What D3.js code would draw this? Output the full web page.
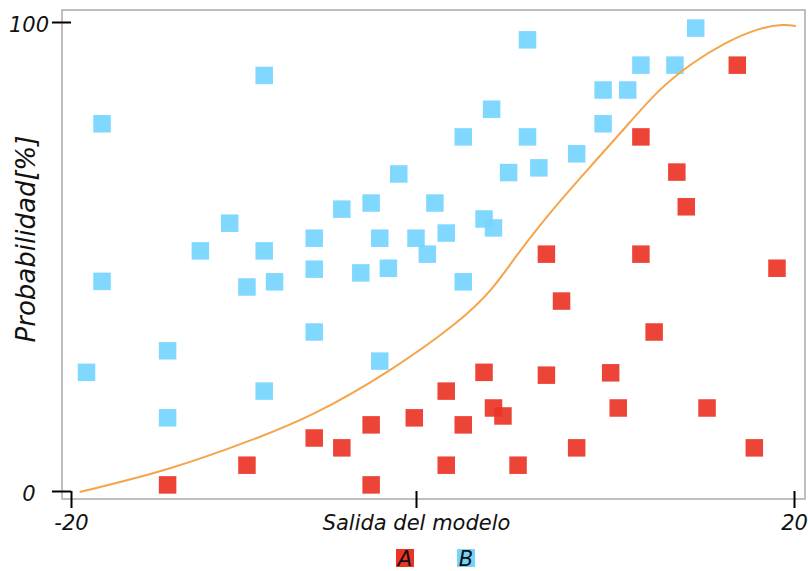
<!DOCTYPE html>
<html>
<head>
<meta charset="utf-8">
<script src="https://cdn.jsdelivr.net/npm/d3@7"></script>
<style>
  body { margin: 0; background: #fff; }
  text { font-family: "DejaVu Sans", Verdana, sans-serif; font-style: italic; }
</style>
</head>
<body>
<div id="chart"></div>
<script>
// Series A (red)
const aX = [-14.4, -9.8, -5.9, -4.3, -2.6, -2.6, -0.1, 1.6, 1.6, 2.5, 3.6, 4.1, 4.6, 5.4, 6.9,
            6.9, 7.7, 8.5, 10.3, 10.7, 11.9, 11.9, 12.6, 13.8, 14.3, 15.4, 17.0, 17.9, 19.1];
const aY = [1.3, 5.5, 11.3, 9.2, 14.1, 1.3, 15.6, 21.3, 5.5, 14.1, 25.3, 17.7, 16.0, 5.5, 50.5,
            24.7, 40.5, 9.2, 25.2, 17.7, 75.5, 50.5, 33.9, 68.0, 60.6, 17.7, 90.8, 9.2, 47.5];

// Series B (blue)
const bX = [-19.1, -18.2, -18.2, -14.4, -14.4, -12.5, -10.8, -9.8, -8.8, -8.8, -8.2, -8.8, -5.9, -5.9,
            -5.9, -4.3, -3.2, -2.6, -2.1, -2.1, -1.6, -1.0, 0.0, 0.6, 1.0, 1.6, 2.5, 2.5, 3.6, 4.0, 4.1,
            4.9, 5.9, 5.9, 6.5, 8.5, 9.9, 9.9, 11.2, 11.9, 13.7, 14.8];
const bY = [25.3, 78.3, 44.7, 29.9, 15.6, 51.2, 57.1, 43.5, 88.6, 51.2, 44.6, 21.3, 53.9, 47.3,
            33.9, 60.1, 46.5, 61.4, 53.9, 27.7, 47.5, 67.6, 53.9, 50.5, 61.4, 55.0, 75.5, 44.6, 58.0, 81.4, 56.1,
            67.9, 96.2, 75.5, 68.9, 71.9, 85.5, 78.3, 85.5, 90.8, 90.8, 98.7];

// Model curve
const curveX = [-19.5, -14.4, -9.3, -6.0, -1.6, 2.3, 4.1, 5.3, 7.5, 9.3, 11.1, 12.8, 14.6, 16.3, 18.1, 19.5, 20.1];
const curveY = [-0.2, 4.3, 11.1, 16.0, 25.2, 36.0, 43.1, 50.3, 61.4, 69.5, 77.6, 85.5, 91.3, 95.5, 98.7, 99.6, 99.1];

const seriesNames = ["A", "B"];
const xTicks = [-20, 0, 20];
const xTickLabels = ["-20", "Salida del modelo", "20"];
const yTicks = [0, 100];
const yTickLabels = ["0", "100"];
const yTitle = "Probabilidad[%]";

const width = 808, height = 571;
const colorA = "#ea3426", colorB = "#76d5fe", colorCurve = "#f5a449";

const svg = d3.select("#chart")
    .append("svg")
    .attr("width", width)
    .attr("height", height);

// Scales (x axis is not evenly spaced in the original)
const x = d3.scaleLinear().domain([-20, 0, 20]).range([71, 416, 794]);
const y = d3.scaleLinear().domain([0, 100]).range([491, 22]);

// Frame
svg.append("rect")
    .attr("x", 62).attr("y", 10)
    .attr("width", 743).attr("height", 489)
    .attr("fill", "none")
    .attr("stroke", "#aaaaaa")
    .attr("stroke-width", 1.5);

// Points
const sq = 17.5;
const ptsA = aX.map((v, i) => ({ x: v, y: aY[i] }));
const ptsB = bX.map((v, i) => ({ x: v, y: bY[i] }));

svg.append("g").selectAll("rect")
    .data(ptsA)
    .join("rect")
    .attr("x", d => x(d.x) - sq / 2)
    .attr("y", d => y(d.y) - sq / 2)
    .attr("width", sq).attr("height", sq)
    .attr("fill", colorA)
    .attr("fill-opacity", 0.92);

svg.append("g").selectAll("rect")
    .data(ptsB)
    .join("rect")
    .attr("x", d => x(d.x) - sq / 2)
    .attr("y", d => y(d.y) - sq / 2)
    .attr("width", sq).attr("height", sq)
    .attr("fill", colorB)
    .attr("fill-opacity", 0.92);

// Curve
const line = d3.line()
    .x(d => x(d[0]))
    .y(d => y(d[1]))
    .curve(d3.curveBasis);

svg.append("path")
    .datum(curveX.map((v, i) => [v, curveY[i]]))
    .attr("d", line)
    .attr("fill", "none")
    .attr("stroke", colorCurve)
    .attr("stroke-width", 2);

// Axes
const yAxis = svg.append("g")
    .attr("transform", "translate(71,0)")
    .call(d3.axisLeft(y).tickValues(yTicks).tickSize(19)
        .tickFormat((d, i) => yTickLabels[i]));
yAxis.select(".domain").remove();
yAxis.selectAll("line").attr("stroke", "#000").attr("stroke-width", 2);
yAxis.selectAll("text")
    .attr("x", -42).attr("dy", "0.45em")
    .attr("text-anchor", "middle")
    .attr("fill", "#111")
    .style("font-size", "21px");

const xAxis = svg.append("g")
    .attr("transform", "translate(0,491)")
    .call(d3.axisBottom(x).tickValues(xTicks).tickSize(17)
        .tickFormat((d, i) => xTickLabels[i]));
xAxis.select(".domain").remove();
xAxis.selectAll("line").attr("stroke", "#000").attr("stroke-width", 2);
xAxis.selectAll("text")
    .attr("y", 39).attr("dy", 0)
    .attr("fill", "#111")
    .style("font-size", "21px");

// Y title
svg.append("text")
    .attr("transform", "translate(35,239) rotate(-90)")
    .attr("text-anchor", "middle")
    .attr("fill", "#111")
    .style("font-size", "26px")
    .text(yTitle);

// Legend
const legend = svg.append("g").selectAll("g")
    .data(seriesNames)
    .join("g")
    .attr("transform", (d, i) => `translate(${405 + i * 61},558)`);

legend.append("rect")
    .attr("x", -9).attr("y", -9)
    .attr("width", 18).attr("height", 18)
    .attr("fill", (d, i) => i === 0 ? colorA : colorB);

legend.append("text")
    .attr("y", 8)
    .attr("text-anchor", "middle")
    .attr("fill", "#111")
    .style("font-size", "21px")
    .text(d => d);
</script>
</body>
</html>
